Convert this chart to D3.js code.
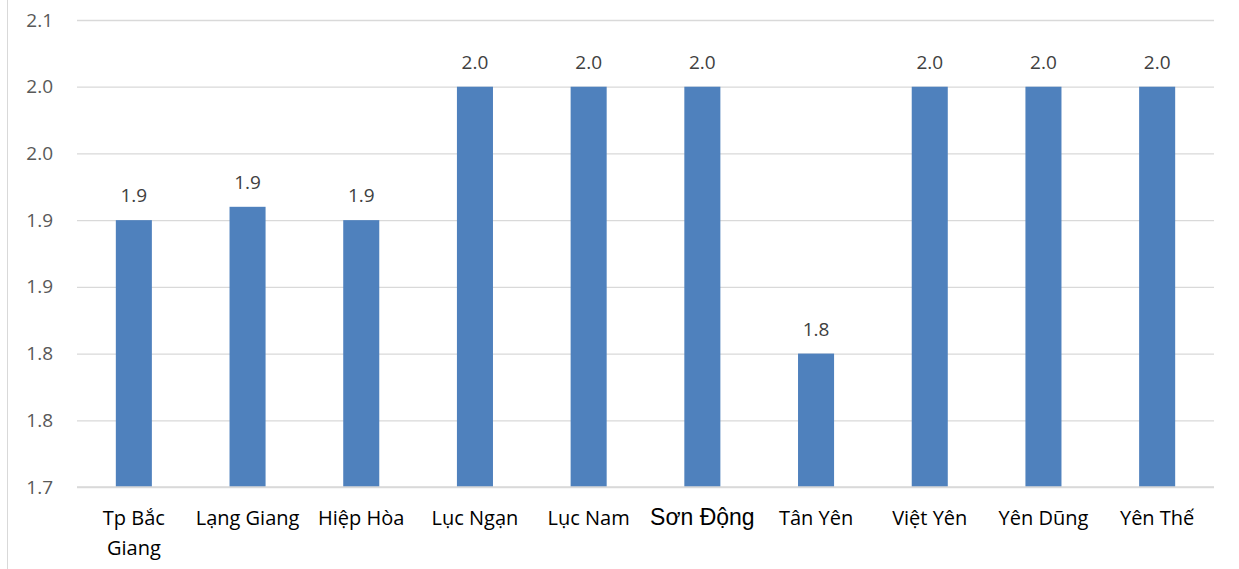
<!DOCTYPE html>
<html><head><meta charset="utf-8">
<script src="https://cdn.jsdelivr.net/npm/d3@7"></script>
<style>body{margin:0;background:#fff}svg{display:block}</style>
</head><body>
<svg id="chart" width="1239" height="569"></svg>
<script>
const categories = ["Tp Bắc Giang","Lạng Giang","Hiệp Hòa","Lục Ngạn","Lục Nam","Sơn Động","Tân Yên","Việt Yên","Yên Dũng","Yên Thế"];
const categoryLines = [["Tp Bắc","Giang"],["Lạng Giang"],["Hiệp Hòa"],["Lục Ngạn"],["Lục Nam"],["Sơn Động"],["Tân Yên"],["Việt Yên"],["Yên Dũng"],["Yên Thế"]];
const values = [1.90, 1.91, 1.90, 2.0, 2.0, 2.0, 1.80, 2.0, 2.0, 2.0];
const tickValues = [1.70, 1.75, 1.80, 1.85, 1.90, 1.95, 2.00, 2.05];
const tickLabels = ["1.7","1.8","1.8","1.9","1.9","2.0","2.0","2.1"];
const valueLabels = ["1.9","1.9","1.9","2.0","2.0","2.0","1.8","2.0","2.0","2.0"];

(function(){
const svg = d3.select("#chart");
const mLeft = 77, mRight = 1214, mTop = 20, mBottom = 487;
const font = "'Open Sans', sans-serif";

svg.append("line").attr("x1",7.5).attr("x2",7.5).attr("y1",0).attr("y2",569)
  .attr("stroke","#d9d9d9").attr("stroke-width",1);

const x = d3.scaleBand().domain(categories).range([mLeft, mRight]).padding(0);
const y = d3.scaleLinear().domain([1.7, 2.05]).range([mBottom, mTop]);
const barW = x.bandwidth() * 0.317;

const yAxis = d3.axisLeft(y).tickValues(tickValues)
  .tickFormat((d,i) => tickLabels[i]).tickSize(-(mRight-mLeft)).tickPadding(24);
const gy = svg.append("g").attr("transform",`translate(${mLeft},0)`).call(yAxis);
gy.select(".domain").remove();
gy.selectAll(".tick line").attr("stroke","#d9d9d9").attr("stroke-width",1.3);
gy.selectAll(".tick text").attr("fill","#595959").style("font-family",font).style("font-size","19px");

svg.append("g").selectAll("rect").data(categories).join("rect")
  .attr("x", (d) => x(d) + x.bandwidth()/2 - barW/2)
  .attr("width", barW)
  .attr("y", (d,i) => y(values[i]))
  .attr("height", (d,i) => y(1.7) - y(values[i]))
  .attr("fill","#4f81bd");

svg.append("line").attr("x1",mLeft).attr("x2",mRight).attr("y1",y(1.7)).attr("y2",y(1.7))
  .attr("stroke","#d9d9d9").attr("stroke-width",1.3);

svg.append("g").selectAll("text").data(categories).join("text")
  .attr("x", d => x(d) + x.bandwidth()/2)
  .attr("y", (d,i) => y(values[i]) - 18)
  .attr("text-anchor","middle").attr("fill","#404040")
  .style("font-family",font).style("font-size","19px")
  .text((d,i) => valueLabels[i]);

const xl = svg.append("g").selectAll("text").data(categories).join("text")
  .attr("x", d => x(d) + x.bandwidth()/2)
  .attr("y", 525)
  .attr("text-anchor","middle").attr("fill","#000")
  .style("font-family", d => d === "Sơn Động" ? "'Liberation Sans', Arial, sans-serif" : font)
  .style("font-size", d => d === "Sơn Động" ? "23px" : "20px");
xl.each(function(d,i){
  const t = d3.select(this);
  categoryLines[i].forEach((line,j) => {
    t.append("tspan").attr("x", x(d) + x.bandwidth()/2).attr("dy", j === 0 ? 0 : 30).text(line);
  });
});
})();
</script>
</body></html>
